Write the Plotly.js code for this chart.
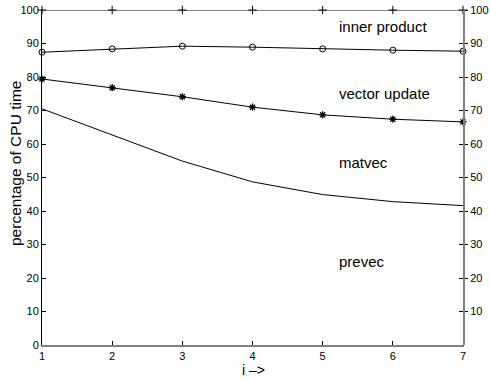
<!DOCTYPE html>
<html><head><meta charset="utf-8">
<script src="https://cdn.plot.ly/plotly-3.0.1.min.js"></script>
<style>html,body{margin:0;padding:0;background:#fff}#chart{width:490px;height:379px}</style>
</head><body><div id="chart"></div>
<script>
const iters = [1, 2, 3, 4, 5, 6, 7];
const total = [100, 100, 100, 100, 100, 100, 100];
const innerProduct = [87.4, 88.4, 89.2, 88.9, 88.4, 88.0, 87.7];
const vectorUpdate = [79.4, 76.8, 74.1, 71.0, 68.7, 67.4, 66.6];
const matvec = [70.5, 62.7, 54.9, 48.7, 44.9, 42.8, 41.6];
const regionLabels = ["inner product", "vector update", "matvec", "prevec"];
const labelY = [95, 75, 54.6, 24.9];
const yTicks = [0, 10, 20, 30, 40, 50, 60, 70, 80, 90, 100];
const y2Ticks = [10, 20, 30, 40, 50, 60, 70, 80, 90, 100];
const xTitle = 'i \u2013>';
const yTitle = 'percentage of CPU time';

const lineStyle = {color: '#000', width: 1};
const traces = [
  {x: iters, y: total, mode: 'lines+markers', line: lineStyle,
   marker: {symbol: 'cross-thin', size: 6, line: {color: '#000', width: 1}}, cliponaxis: false},
  {x: iters, y: innerProduct, mode: 'lines+markers', line: lineStyle,
   marker: {symbol: 'circle-open', size: 6, color: '#000', line: {color: '#000', width: 1}}, cliponaxis: false},
  {x: iters, y: vectorUpdate, mode: 'lines+markers', line: lineStyle,
   marker: {symbol: 'asterisk-open', size: 6, color: '#000', line: {color: '#000', width: 1.3}}, cliponaxis: false},
  {x: iters, y: matvec, mode: 'lines', line: lineStyle, cliponaxis: false},
  {x: [1], y: [0], yaxis: 'y2', mode: 'markers', marker: {opacity: 0}, hoverinfo: 'skip'}
];

const fam = 'Liberation Sans, Arial, sans-serif';
const layout = {
  width: 490, height: 379,
  margin: {l: 42, r: 27, t: 10, b: 34},
  paper_bgcolor: '#fff', plot_bgcolor: '#fff',
  showlegend: false,
  font: {family: fam, size: 11, color: '#000'},
  xaxis: {range: [1, 7], tickvals: iters, ticks: 'inside', ticklen: 4, tickcolor: '#000',
    showgrid: false, zeroline: false, showline: true, linecolor: '#808080', linewidth: 2,
    tickfont: {size: 11}},
  yaxis: {range: [0, 100], tickvals: yTicks, ticks: 'inside', ticklen: 4, tickcolor: '#000',
    mirror: 'ticks',
    showgrid: false, zeroline: false, showline: true, linecolor: '#000', linewidth: 1,
    tickfont: {size: 11}},
  yaxis2: {range: [0, 100], tickvals: y2Ticks, overlaying: 'y', side: 'right',
    ticks: 'outside', ticklen: 3, tickcolor: '#000',
    showgrid: false, zeroline: false, showline: true, linecolor: '#808080', linewidth: 2,
    tickfont: {size: 11}},
  annotations: regionLabels.map((t, k) => ({
    x: 5.2, y: labelY[k], xref: 'x', yref: 'y', text: t, showarrow: false,
    xanchor: 'left', yanchor: 'middle', font: {size: 15, color: '#000'}
  })).concat([
    {x: 15, y: 164, xref: 'paper', yref: 'paper', text: yTitle, showarrow: false,
     textangle: -90, xanchor: 'center', yanchor: 'middle', font: {size: 15.5, color: '#000'}},
    {x: 253, y: 370, xref: 'paper', yref: 'paper', text: xTitle, showarrow: false,
     xanchor: 'center', yanchor: 'middle', font: {size: 14, color: '#000'}}
  ])
};
// convert pixel positions of the title annotations into paper fractions
const pw = 490 - 42 - 27, ph = 379 - 10 - 34;
layout.annotations.forEach(a => {
  if (a.xref === 'paper') {
    a.x = (a.x - 42) / pw;
    a.y = (379 - 34 - a.y) / ph;
  }
});
Plotly.newPlot('chart', traces, layout, {displayModeBar: false, staticPlot: true});
</script></body></html>
